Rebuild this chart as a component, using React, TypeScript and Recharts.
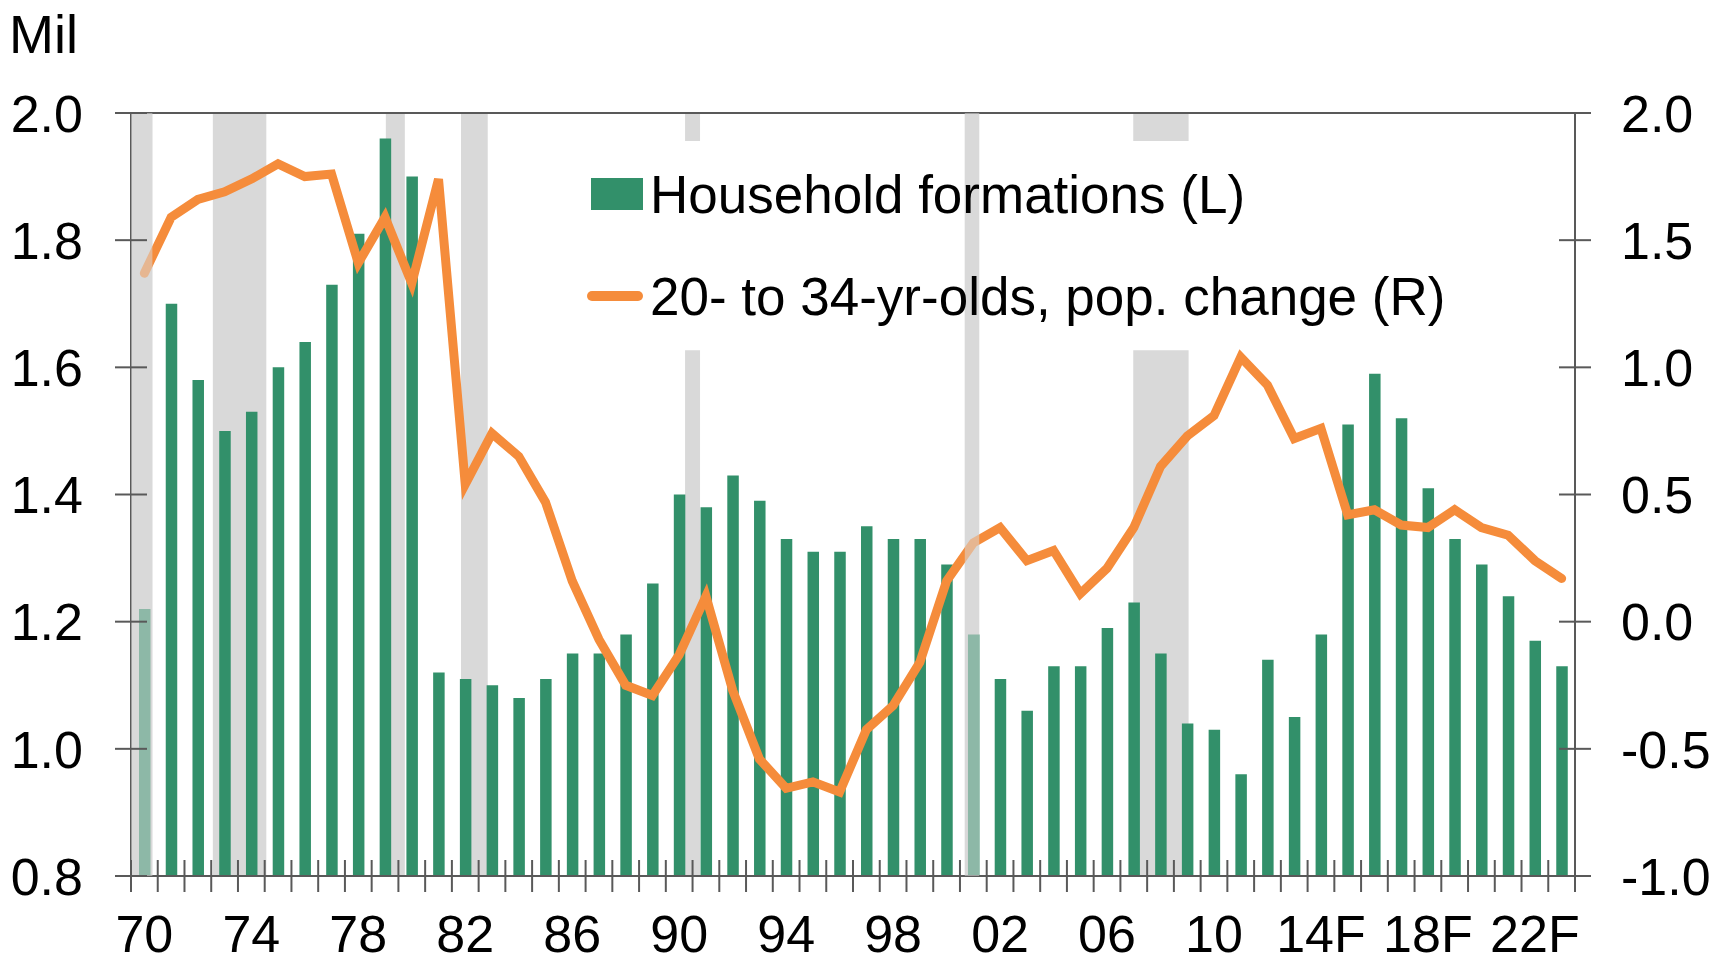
import React from 'react';
import { ComposedChart, Bar, Line, XAxis, YAxis, ReferenceArea, ReferenceLine, Legend } from 'recharts';

// Years 1970-2023, forecasts marked with F
const years = [
  '70', '71', '72', '73', '74', '75', '76', '77', '78', '79',
  '80', '81', '82', '83', '84', '85', '86', '87', '88', '89',
  '90', '91', '92', '93', '94', '95', '96', '97', '98', '99',
  '00', '01', '02', '03', '04', '05', '06', '07', '08', '09',
  '10', '11', '12', '13', '14F', '15F', '16F', '17F', '18F', '19F',
  '20F', '21F', '22F', '23F',
];

// Household formations, millions (left axis)
const households = [
  1.22, 1.70, 1.58, 1.50, 1.53, 1.60, 1.64, 1.73, 1.81, 1.96,
  1.90, 1.12, 1.11, 1.10, 1.08, 1.11, 1.15, 1.15, 1.18, 1.26,
  1.40, 1.38, 1.43, 1.39, 1.33, 1.31, 1.31, 1.35, 1.33, 1.33,
  1.29, 1.18, 1.11, 1.06, 1.13, 1.13, 1.19, 1.23, 1.15, 1.04,
  1.03, 0.96, 1.14, 1.05, 1.18, 1.51, 1.59, 1.52, 1.41, 1.33,
  1.29, 1.24, 1.17, 1.13,
];

// 20- to 34-yr-olds, population change, millions (right axis)
const popChange = [
  1.37, 1.59, 1.66, 1.69, 1.74, 1.80, 1.75, 1.76, 1.41, 1.59,
  1.33, 1.74, 0.54, 0.74, 0.65, 0.47, 0.16, -0.07, -0.25, -0.29,
  -0.13, 0.10, -0.27, -0.54, -0.655, -0.63, -0.67, -0.425, -0.33, -0.16,
  0.16, 0.31, 0.37, 0.24, 0.28, 0.11, 0.21, 0.37, 0.61, 0.73,
  0.81, 1.04, 0.93, 0.72, 0.76, 0.42, 0.44, 0.38, 0.37, 0.44,
  0.37, 0.34, 0.24, 0.17,
];

// recession shading, in category units counted from the first year's left edge
const recessionFrom = [0, 3.06, 9.53, 12.34, 20.72, 31.18, 37.48];
const recessionTo = [0.8, 5.06, 10.24, 13.34, 21.28, 31.72, 39.55];
const recessionOnTop = [true, false, false, false, false, true, false];

const leftTicks = [0.8, 1.0, 1.2, 1.4, 1.6, 1.8, 2.0];
const rightTicks = [-1.0, -0.5, 0.0, 0.5, 1.0, 1.5, 2.0];

const data = years.map((year, i) => ({
  year,
  households: households[i],
  popChange: popChange[i],
}));

const W = 1727;
const H = 962;
const PLOT_LEFT = 131;
const PLOT_RIGHT = 1575;
const PLOT_TOP = 113;
const PLOT_BOTTOM = 876;
const TICK = 16;

const GREEN = '#32906a';
const ORANGE = '#f58c3b';
const SHADE = '#d9d9d9';
const AXIS = '#595959';
const FONT = '"Liberation Sans", Arial, sans-serif';

const XTick = (props: any) => {
  const { x, payload, index } = props;
  const step = (PLOT_RIGHT - PLOT_LEFT) / years.length;
  const edge = x - step / 2;
  return (
    <g>
      <line x1={edge} x2={edge} y1={PLOT_BOTTOM - TICK} y2={PLOT_BOTTOM + TICK} stroke={AXIS} strokeWidth={2} />
      {index === years.length - 1 && (
        <line x1={x + step / 2} x2={x + step / 2} y1={PLOT_BOTTOM - TICK} y2={PLOT_BOTTOM + TICK} stroke={AXIS} strokeWidth={2} />
      )}
      {index % 4 === 0 && (
        <text x={x} y={952} textAnchor="middle" fontSize={52} fontFamily={FONT} fill="#000">
          {payload.value}
        </text>
      )}
    </g>
  );
};

const LeftTick = (props: any) => {
  const { y, payload } = props;
  return (
    <g>
      <line x1={PLOT_LEFT - TICK} x2={PLOT_LEFT + TICK} y1={y} y2={y} stroke={AXIS} strokeWidth={2} />
      <text x={83} y={y} dy="0.36em" textAnchor="end" fontSize={52} fontFamily={FONT} fill="#000">
        {Number(payload.value).toFixed(1)}
      </text>
    </g>
  );
};

const RightTick = (props: any) => {
  const { y, payload } = props;
  return (
    <g>
      <line x1={PLOT_RIGHT - TICK} x2={PLOT_RIGHT + TICK} y1={y} y2={y} stroke={AXIS} strokeWidth={2} />
      <text x={1621} y={y} dy="0.36em" textAnchor="start" fontSize={52} fontFamily={FONT} fill="#000">
        {Number(payload.value).toFixed(1)}
      </text>
    </g>
  );
};

// ReferenceArea spanning whole categories, trimmed to fractional edges
const bandShape = (from: number, to: number, first: number, last: number, fill: string, opacity: number) =>
  (p: any) => {
    const step = p.width / (last - first + 1);
    return (
      <rect
        x={p.x + (from - first) * step}
        y={p.y}
        width={(to - from) * step}
        height={p.height}
        fill={fill}
        fillOpacity={opacity}
      />
    );
  };

const renderBand = (i: number, opacity: number, key: string, onTop: boolean) => {
  const from = recessionFrom[i];
  const to = recessionTo[i];
  const first = Math.floor(from);
  const last = Math.min(Math.ceil(to) - 1, years.length - 1);
  return (
    <ReferenceArea
      key={key}
      xAxisId="cat"
      yAxisId="left"
      x1={years[first]}
      x2={years[last]}
      y1={0.8}
      y2={2.0}
      stroke="none"
      shape={bandShape(from, to, first, last, SHADE, opacity)}
      {...(onTop ? { zIndex: 1000 } : {})}
    />
  );
};

const LegendBox = () => (
  <div style={{ position: 'relative', width: 900, height: 200, fontFamily: FONT, fontSize: 53, color: '#000' }}>
    <div style={{ position: 'absolute', left: 4, top: 13, width: 52, height: 32, background: GREEN }} />
    <div style={{ position: 'absolute', left: 63, top: 0, lineHeight: '60px', whiteSpace: 'nowrap' }}>
      Household formations (L)
    </div>
    <div style={{ position: 'absolute', left: 0, top: 126, width: 56, height: 10, borderRadius: 5, background: ORANGE }} />
    <div style={{ position: 'absolute', left: 63, top: 102, lineHeight: '60px', whiteSpace: 'nowrap' }}>
      20- to 34-yr-olds, pop. change (R)
    </div>
  </div>
);

export default function App() {
  return (
    <div style={{ position: 'absolute', left: 0, top: 0, width: W, height: H, background: '#fff' }}>
      <ComposedChart
        width={W}
        height={H}
        data={data}
        margin={{ top: PLOT_TOP, right: 0, bottom: 0, left: 0 }}
      >
        <XAxis
          xAxisId="cat"
          dataKey="year"
          interval={0}
          height={H - PLOT_BOTTOM}
          tickLine={false}
          axisLine={{ stroke: AXIS, strokeWidth: 2 }}
          tick={<XTick />}
        />
        <YAxis
          yAxisId="left"
          domain={[0.8, 2.0]}
          ticks={leftTicks}
          width={PLOT_LEFT}
          tickLine={false}
          axisLine={{ stroke: AXIS, strokeWidth: 2 }}
          tick={<LeftTick />}
          label={() => (
            <text x={9} y={53} fontSize={54} fontFamily={FONT} fill="#000">
              Mil
            </text>
          )}
        />
        <YAxis
          yAxisId="right"
          orientation="right"
          domain={[-1.0, 2.0]}
          ticks={rightTicks}
          width={W - PLOT_RIGHT}
          tickLine={false}
          axisLine={{ stroke: AXIS, strokeWidth: 2 }}
          tick={<RightTick />}
        />

        {recessionFrom.map((_, i) => (recessionOnTop[i] ? null : renderBand(i, 1, `rec-${i}`, false)))}
        {/* legend background hides the shading behind it */}
        <ReferenceArea xAxisId="cat" yAxisId="left" x1={years[15]} x2={years[49]} y1={1.627} y2={1.956} fill="#fff" fillOpacity={1} stroke="none" />
        {recessionFrom.map((_, i) => (recessionOnTop[i] ? renderBand(i, 1, `base-${i}`, false) : null))}

        <Bar
          xAxisId="cat"
          yAxisId="left"
          dataKey="households"
          fill={GREEN}
          barSize={11.5}
          isAnimationActive={false}
        />
        <Line
          xAxisId="cat"
          yAxisId="right"
          dataKey="popChange"
          type="linear"
          stroke={ORANGE}
          strokeWidth={9}
          strokeLinecap="round"
          dot={false}
          activeDot={false}
          isAnimationActive={false}
        />

        {recessionFrom.map((_, i) => (recessionOnTop[i] ? renderBand(i, 0.55, `top-${i}`, true) : null))}
        <ReferenceLine yAxisId="left" xAxisId="cat" y={2.0} stroke={AXIS} strokeWidth={2} />

        <Legend
          layout="horizontal"
          verticalAlign="middle"
          align="center"
          content={<LegendBox />}
          wrapperStyle={{ position: 'absolute', left: 587, top: 165, width: 900, height: 200 }}
        />
      </ComposedChart>
    </div>
  );
}
